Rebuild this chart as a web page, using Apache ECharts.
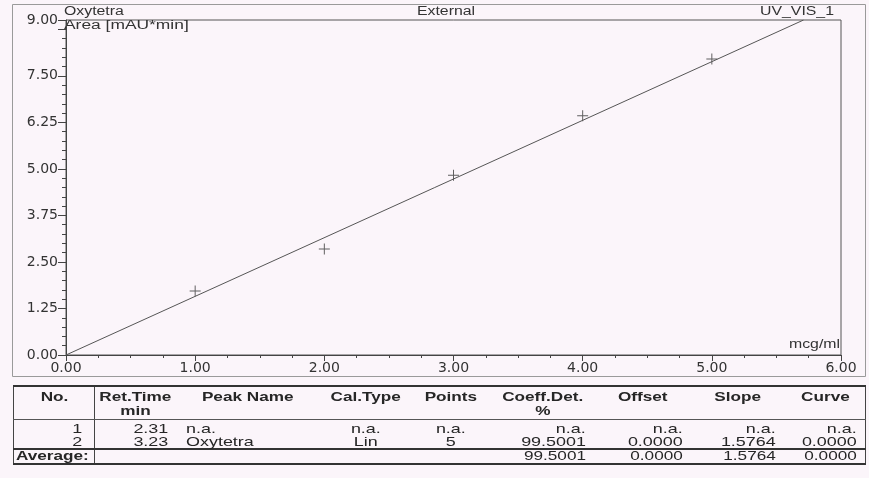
<!DOCTYPE html>
<html><head><meta charset="utf-8">
<script src="https://cdn.jsdelivr.net/npm/echarts@6/dist/echarts.min.js"></script>
<style>
html,body{margin:0;padding:0;background:#fbf5fa;width:869px;height:478px;overflow:hidden;}
#chart{position:absolute;left:0;top:0;width:869px;height:478px;}
#tbl{position:absolute;left:13px;top:385px;width:852px;border-collapse:collapse;table-layout:fixed;
  font-family:'Liberation Sans',Arial,sans-serif;font-size:13px;color:#262626;
  border-top:2px solid #333;border-bottom:2px solid #333;border-left:1px solid #444;border-right:1px solid #444;}
#tbl td{padding:0;white-space:nowrap;overflow:visible;}
#tbl td.c0{border-right:1px solid #444;}
#tbl tr.hd td{font-weight:bold;line-height:14px;padding-top:3px;padding-bottom:1px;text-align:center;border-bottom:1px solid #555;}
#tbl tr.r1 td{line-height:13px;padding-top:2px;}
#tbl tr.r2 td{line-height:13px;padding-bottom:0px;}
#tbl tr.av td{line-height:12px;padding-bottom:1px;border-top:2px solid #333;}
#tbl span.s{display:inline-block;transform:scaleX(1.32);}
#tbl tr.r1 span.s,#tbl tr.r2 span.s{transform:scaleX(1.38);}
</style></head>
<body><div id="chart"></div><table id="tbl"></table>
<script>
// ---- data ----
const concentrations = [1, 2, 3, 4, 5];
const areas = [1.72, 2.85, 4.83, 6.43, 7.95];
const fitLine = [[0, 0], [5.71, 9.0]];
const xTickLabels = ['0.00', '1.00', '2.00', '3.00', '4.00', '5.00', '6.00'];
const yTickLabels = ['0.00', '1.25', '2.50', '3.75', '5.00', '6.25', '7.50', '9.00'];
const componentName = 'Oxytetra';
const yAxisTitle = 'Area [mAU*min]';
const xAxisUnit = 'mcg/ml';
const calibrationMode = 'External';
const channelName = 'UV_VIS_1';
const tableHeaderLine1 = ['No.', 'Ret.Time', 'Peak Name', 'Cal.Type', 'Points', 'Coeff.Det.', 'Offset', 'Slope', 'Curve'];
const tableHeaderLine2 = ['', 'min', '', '', '', '%', '', '', ''];
const tableRow1 = ['1', '2.31', 'n.a.', 'n.a.', 'n.a.', 'n.a.', 'n.a.', 'n.a.', 'n.a.'];
const tableRow2 = ['2', '3.23', 'Oxytetra', 'Lin', '5', '99.5001', '0.0000', '1.5764', '0.0000'];
const tableAverage = ['Average:', '', '', '', '', '99.5001', '0.0000', '1.5764', '0.0000'];

// ---- table layout ----
const colWidths = [81, 81, 145, 90, 80, 105, 95, 95, 80];
const dataAlign = ['right', 'right', 'left', 'center', 'center', 'right', 'right', 'right', 'right'];
const dataPad = [[0, 12], [0, 7], [10, 0], [0, 0], [0, 0], [0, 10], [0, 8], [0, 10], [0, 8]];

function span(t, align) {
  if (!t) return '';
  return '<span class="s" style="transform-origin:' + align + ' center">' + t + '</span>';
}
let html = '<colgroup>' + colWidths.map(w => '<col style="width:' + w + 'px">').join('') + '</colgroup>';
html += '<tr class="hd">' + tableHeaderLine1.map((h, i) =>
  '<td class="c' + i + '"><div>' + span(h, 'center') + '</div><div>' + (tableHeaderLine2[i] ? span(tableHeaderLine2[i], 'center') : '&nbsp;') + '</div></td>').join('') + '</tr>';
function dataRow(cls, row, boldFirst) {
  return '<tr class="' + cls + '">' + row.map((v, i) => {
    let al = dataAlign[i], pl = dataPad[i][0], pr = dataPad[i][1];
    if (boldFirst && i === 0) { al = 'left'; pl = 2; pr = 0; }
    const st = 'text-align:' + al + ';padding-left:' + pl + 'px;padding-right:' + pr + 'px;' + (boldFirst && i === 0 ? 'font-weight:bold;' : '');
    return '<td class="c' + i + '" style="' + st + '">' + span(v, al) + '</td>';
  }).join('') + '</tr>';
}
html += dataRow('r1', tableRow1, false);
html += dataRow('r2', tableRow2, false);
html += dataRow('av', tableAverage, true);
document.getElementById('tbl').innerHTML = html;

// ---- chart ----
const axisColor = '#444';
const textColor = '#333';
const labelFont = { fontFamily: 'DejaVu Sans', fontSize: 14, color: textColor };
const plusPath = 'path://M0,4.55H10V5.45H0Z M4.55,0H5.45V10H4.55Z';
function gtext(text, x, y, align, sx) {
  return {
    type: 'text', x: x, y: y, scaleX: sx || 1.32, silent: true,
    style: { text: text, fontFamily: 'Liberation Sans', fontSize: 12, fill: textColor,
      textAlign: align, align: align, textVerticalAlign: 'middle', verticalAlign: 'middle' }
  };
}
const chart = echarts.init(document.getElementById('chart'), null, { renderer: 'canvas' });
chart.setOption({
  animation: false,
  backgroundColor: 'transparent',
  grid: { left: 66, right: 28, top: 20, bottom: 123, show: true, borderColor: '#555', borderWidth: 1 },
  xAxis: {
    type: 'value', min: 0, max: 6, interval: 1,
    axisLine: { show: true, onZero: false, lineStyle: { color: axisColor, width: 1 } },
    axisTick: { show: true, length: 6, lineStyle: { color: axisColor } },
    minorTick: { show: true, splitNumber: 4, length: 3, lineStyle: { color: axisColor } },
    splitLine: { show: false },
    axisLabel: Object.assign({}, labelFont, { margin: 6, formatter: v => xTickLabels[Math.round(v)] })
  },
  yAxis: [
    {
      type: 'value', min: 0, max: 9, interval: 0.25, position: 'left',
      axisLine: { show: true, onZero: false, lineStyle: { color: axisColor, width: 1 } },
      axisTick: { show: true, length: 4, lineStyle: { color: axisColor } },
      axisLabel: { show: false }, splitLine: { show: false }
    },
    {
      type: 'value', min: 0, max: 9, interval: 1.25, position: 'left',
      axisLine: { show: false },
      axisTick: { show: true, length: 8, lineStyle: { color: axisColor } },
      splitLine: { show: false },
      axisLabel: Object.assign({}, labelFont, { margin: 8, formatter: v => { const s = v.toFixed(2); return yTickLabels.indexOf(s) >= 0 ? s : ''; } })
    }
  ],
  series: [
    { type: 'line', data: fitLine, yAxisIndex: 0, symbol: 'none', silent: true,
      lineStyle: { color: '#555', width: 1 } },
    { type: 'scatter', data: concentrations.map((c, i) => [c, areas[i]]), yAxisIndex: 0,
      symbol: plusPath, symbolSize: 11, itemStyle: { color: '#3a3a3a' } }
  ],
  graphic: [
    { type: 'rect', silent: true, shape: { x: 12.5, y: 4.5, width: 853, height: 372 },
      style: { fill: 'none', stroke: '#9a9a9a', lineWidth: 1 } },
    gtext(componentName, 64, 12, 'left'),
    gtext(yAxisTitle, 64, 26, 'left', 1.45),
    gtext(calibrationMode, 446, 12, 'center'),
    gtext(channelName, 760, 12, 'left'),
    gtext(xAxisUnit, 840, 345, 'right')
  ]
});
</script>
</body></html>
